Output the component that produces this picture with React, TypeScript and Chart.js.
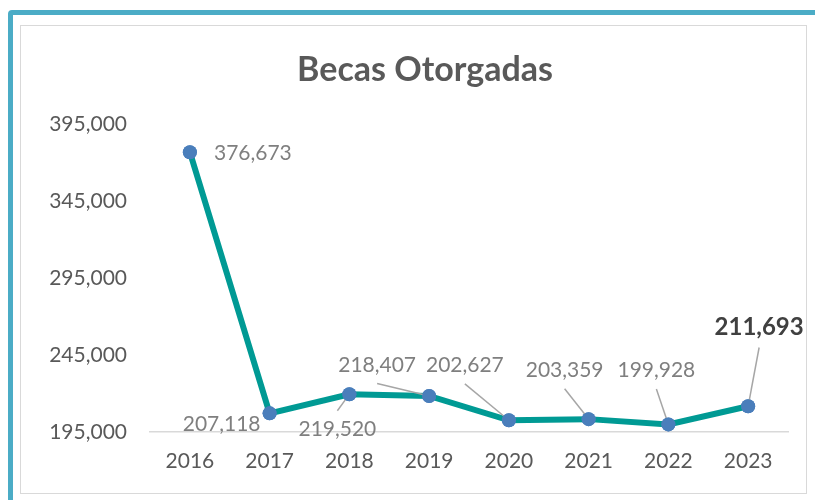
import React, { useEffect, useRef } from "react";
import { Chart, registerables } from "chart.js";

Chart.register(...registerables);

const TITLE = "Becas Otorgadas";
const years = ["2016", "2017", "2018", "2019", "2020", "2021", "2022", "2023"];
const becas = [376673, 207118, 219520, 218407, 202627, 203359, 199928, 211693];
const yMin = 195000;
const yMax = 395000;
const yStep = 50000;

// label placement relative to each point (text centre offset), and whether a leader line is drawn
const labelDx = [63, -48, -12, -52, -44, -24, -12, 11];
const labelDy = [1, 11, 35, -31, -55, -49, -54, -79];
const labelLeader = [false, false, true, true, true, true, true, true];
const labelBold = [false, false, false, false, false, false, false, true];

const FONT = "Lato, 'Open Sans', sans-serif";
const fmt = (v: number) => v.toLocaleString("en-US");

const labelPlugin = {
  id: "valueLabels",
  afterDatasetsDraw(chart: any) {
    const ctx = chart.ctx;
    const meta = chart.getDatasetMeta(0);
    ctx.save();
    meta.data.forEach((pt: any, i: number) => {
      const cx = pt.x + labelDx[i];
      const cy = pt.y + labelDy[i];
      const bold = labelBold[i];
      const size = bold ? 24 : 21;
      if (labelLeader[i]) {
        const sy = cy + (labelDy[i] < 0 ? 1 : -1) * (size * 0.55 + 7);
        const sx = cx;
        const ang = Math.atan2(pt.y - sy, pt.x - sx);
        ctx.beginPath();
        ctx.strokeStyle = "#a6a6a6";
        ctx.lineWidth = 1.5;
        ctx.moveTo(sx, sy);
        ctx.lineTo(pt.x - Math.cos(ang) * 2, pt.y - Math.sin(ang) * 2);
        ctx.stroke();
      }
      ctx.font = `${bold ? "bold " : ""}${size}px ${FONT}`;
      ctx.fillStyle = bold ? "#404040" : "#7f7f7f";
      ctx.textAlign = "center";
      ctx.textBaseline = "middle";
      ctx.fillText(fmt(becas[i]), cx, cy);
    });
    // redraw markers above leader lines
    meta.data.forEach((pt: any) => pt.draw(ctx, chart.chartArea));
    ctx.restore();
  },
};

const titlePlugin = {
  id: "titleText",
  afterDraw(chart: any) {
    const ctx = chart.ctx;
    ctx.save();
    ctx.font = `bold 34px ${FONT}`;
    ctx.fillStyle = "#595959";
    ctx.textAlign = "center";
    ctx.textBaseline = "alphabetic";
    ctx.fillText(TITLE, 425, 81);
    ctx.restore();
  },
};

export default function App() {
  const ref = useRef<HTMLCanvasElement>(null);
  useEffect(() => {
    document.body.style.margin = "0";
    const chart = new Chart(ref.current!, {
      type: "line",
      data: {
        labels: years,
        datasets: [
          {
            data: becas,
            borderColor: "#009a94",
            borderWidth: 6,
            pointBackgroundColor: "#4a7ebb",
            pointBorderColor: "#4a7ebb",
            pointRadius: 7,
            pointBorderWidth: 0,
            tension: 0,
          },
        ],
      },
      plugins: [labelPlugin, titlePlugin],
      options: {
        animation: false,
        responsive: false,
        events: [],
        layout: { padding: { left: 0, right: 27, top: 124, bottom: 0 } },
        plugins: { legend: { display: false }, tooltip: { enabled: false }, title: { display: false } },
        scales: {
          x: {
            offset: true,
            grid: { display: false, drawTicks: false },
            border: { display: true, color: "#d9d9d9", width: 1.5 },
            ticks: { color: "#595959", font: { family: FONT, size: 21 }, padding: 17, maxRotation: 0 },
            afterFit: (s: any) => { s.height = 68; },
          },
          y: {
            min: yMin,
            max: yMax,
            grid: { display: false, drawTicks: false },
            border: { display: false },
            ticks: {
              stepSize: yStep,
              color: "#595959",
              font: { family: FONT, size: 21 },
              padding: 23,
              callback: (v: any) => fmt(Number(v)),
            },
            afterFit: (s: any) => { s.width = 150; },
          },
        },
      },
    });
    return () => chart.destroy();
  }, []);
  return (
    <div style={{ position: "fixed", left: 0, top: 0, width: 815, height: 500, overflow: "hidden", background: "#fff" }}>
      <div style={{ position: "absolute", left: 8, top: 10, width: 840, height: 540, border: "5px solid #4bacc6", borderRadius: 4 }} />
      <div style={{ position: "absolute", left: 20, top: 25, width: 785, height: 467, border: "1px solid #d9d9d9" }} />
      <canvas ref={ref} width={815} height={500} style={{ position: "absolute", left: 0, top: 0 }} />
    </div>
  );
}
